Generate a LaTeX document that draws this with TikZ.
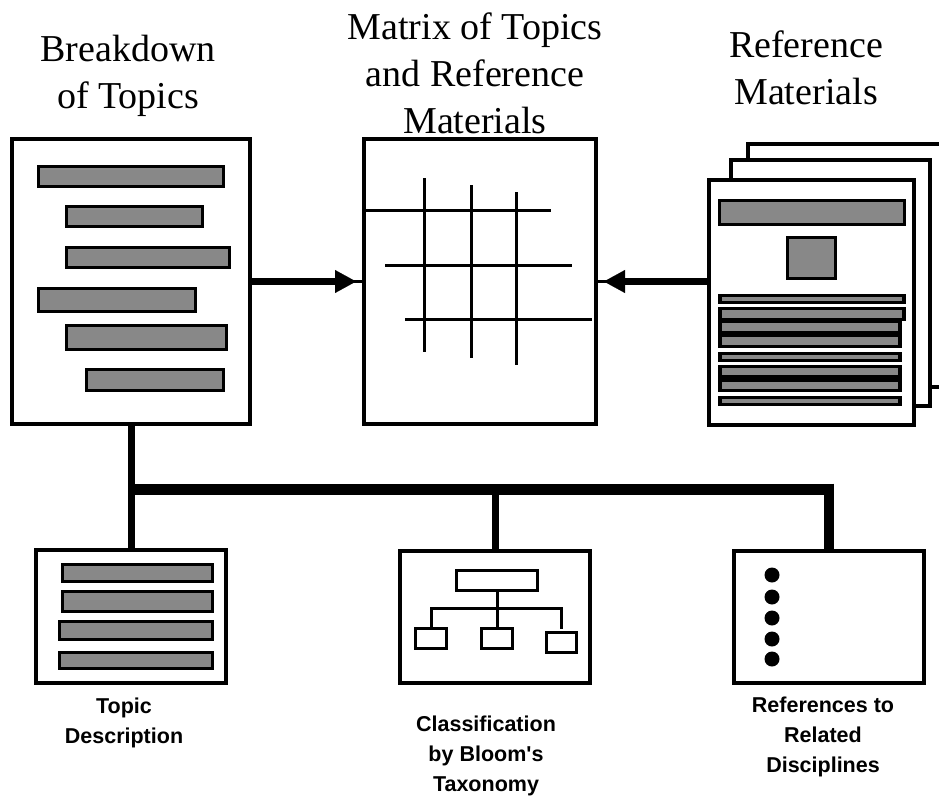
\documentclass[tikz,border=0pt]{standalone}
\usepackage{fontspec}
\setmainfont{Liberation Serif}
\newfontfamily\labelfont{Liberation Sans}
\usetikzlibrary{arrows.meta}
\definecolor{bargray}{HTML}{888888}
\tikzset{
  panel/.style={draw=black, line width=3.5pt, fill=white, inner sep=0pt, outer sep=0pt},
  grayrect/.style={draw=black, line width=3pt, fill=bargray},
  gridline/.style={line width=3pt},
  link/.style={line width=2.5pt},
  thickarrow/.style={line width=7pt, -{Triangle[length=21pt,width=23pt,line width=0.1pt]}, shorten >=8pt},
  busline/.style={line width=11pt},
  drop/.style={line width=7pt},
  chart/.style={line width=3pt},
  chartbox/.style={draw=black, line width=3pt, inner sep=0pt, outer sep=0pt},
  header/.style={font=\fontsize{38}{47}\selectfont, align=center, inner sep=0pt},
  caption/.style={font=\labelfont\bfseries\fontsize{21.5}{30}\selectfont, align=center, inner sep=0pt},
}
\begin{document}
\begin{tikzpicture}[x=1pt,y=-1pt]
\useasboundingbox (0,0) rectangle (939,797);
\clip (0,0) rectangle (939,797);

% column headings
\node[header] (hBreak) at (128,76) {Breakdown\\of Topics};
\node[header] (hMatrix) at (475,73) {Matrix of Topics\\and Reference\\Materials};
\node[header] (hRef) at (806,68) {Reference\\Materials};

% upper panels
\node[panel, minimum width=238pt, minimum height=285pt] (topics) at (131,281.5) {};
\node[panel, minimum width=232pt, minimum height=285pt] (matrix) at (480,281.5) {};
\node[panel, minimum width=212pt, minimum height=243pt] (page3) at (854,265.5) {};
\node[panel, minimum width=199pt, minimum height=246pt] (page2) at (830.5,283) {};
\node[panel, minimum width=205pt, minimum height=245pt] (refs) at (811.5,302.5) {};

% topic outline bars
\draw[grayrect] (38.5,166.5) rectangle (223.5,186.5);
\draw[grayrect] (66.5,206.5) rectangle (202.5,226.5);
\draw[grayrect] (66.5,247.5) rectangle (229.5,267.5);
\draw[grayrect] (38.5,288.5) rectangle (195.5,311.5);
\draw[grayrect] (66.5,325.5) rectangle (226.5,349.5);
\draw[grayrect] (86.5,369.5) rectangle (223.5,390.5);

% matrix grid
\draw[gridline] (424,178) -- (424,352);
\draw[gridline] (471,185) -- (471,358);
\draw[gridline] (516,192) -- (516,365);
\draw[gridline] (363,210) -- (551,210);
\draw[gridline] (385,265) -- (572,265);
\draw[gridline] (405,319) -- (592,319);

% reference page contents
\draw[grayrect] (719.5,200.5) rectangle (904.5,224.5);
\draw[grayrect] (787.5,237.5) rectangle (835.5,278.5);
\fill (718,294) rectangle (906,304);
\fill[bargray] (722,297) rectangle (902,301);
\fill (718,307) rectangle (906,321);
\fill (718,321) rectangle (902,348);
\fill[bargray] (722,310) rectangle (902,318);
\fill[bargray] (722,323) rectangle (898,331);
\fill[bargray] (722,337) rectangle (898,345);
\fill (718,352) rectangle (902,362);
\fill[bargray] (722,355) rectangle (898,359);
\fill (718,365) rectangle (902,392);
\fill[bargray] (722,368) rectangle (898,375);
\fill[bargray] (722,382) rectangle (898,389);
\fill (718,396) rectangle (902,406);
\fill[bargray] (722,399) rectangle (898,403);

% lower panels
\node[panel, minimum width=190pt, minimum height=133pt] (desc) at (131,616.5) {};
\node[panel, minimum width=190pt, minimum height=132pt] (bloom) at (495,617) {};
\node[panel, minimum width=190pt, minimum height=132pt] (related) at (829,617) {};

% description bars
\draw[grayrect] (62.5,564.5) rectangle (212.5,581.5);
\draw[grayrect] (62.5,591.5) rectangle (212.5,611.5);
\draw[grayrect] (59.5,621.5) rectangle (212.5,639.5);
\draw[grayrect] (59.5,652.5) rectangle (212.5,668.5);

% small hierarchy chart
\node[chartbox, minimum width=81pt, minimum height=20pt] (root) at (497,580.5) {};
\node[chartbox, minimum width=31pt, minimum height=20pt] (leafA) at (431,638.5) {};
\node[chartbox, minimum width=31pt, minimum height=20pt] (leafB) at (497,638.5) {};
\node[chartbox, minimum width=30pt, minimum height=20pt] (leafC) at (561,642.5) {};
\coordinate (tee) at (root.south |- 0,608);
\draw[chart] (root.south) -- (tee);
\draw[chart] (leafA.north) |- (tee) -| ([yshift=4pt]leafC.north);
\draw[chart] (tee) -- (leafB.north);

% bullet list
\foreach \yy in {575,597,618,639,659}
  \fill (772,\yy) circle (7.5);

% arrows into the matrix
\coordinate (refsIn) at (refs.west |- matrix.east);
\draw[link] (topics.east) -- (matrix.west);
\draw[thickarrow] (topics.east) -- (matrix.west);
\draw[link] (refsIn) -- (matrix.east);
\draw[thickarrow] (refsIn) -- (matrix.east);

% distribution bus to the lower panels
\coordinate (busL) at (topics.south |- 0,489);
\coordinate (busR) at (related.north |- 0,489);
\coordinate (busTop) at (related.north |- 0,483.5);
\draw[busline] (busL) -- (busR);
\draw[drop] (topics.south) -- (desc.north);
\draw[drop] (bloom.north |- busL) -- (bloom.north);
\draw[drop, line width=10pt] (busTop) -- (related.north);

% captions
\node[caption] (capDesc) at (124,723) {Topic\\Description};
\node[caption] (capBloom) at (486,756) {Classification\\by Bloom's\\Taxonomy};
\node[caption] (capRel) at (823,737) {References to\\Related\\Disciplines};
\end{tikzpicture}
\end{document}
